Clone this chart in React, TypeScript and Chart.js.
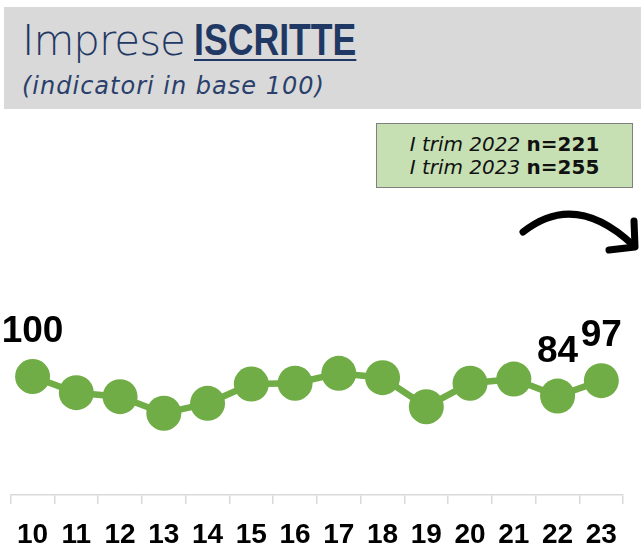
import React, { useEffect, useRef } from "react";
import { Chart, registerables } from "chart.js";

Chart.register(...registerables);

const categories = ["10", "11", "12", "13", "14", "15", "16", "17", "18", "19", "20", "21", "22", "23"];
const indexValues = [100, 91.8, 89.8, 81.4, 86.4, 96.2, 96.6, 101.6, 99.4, 84.7, 96.6, 98.7, 90.1, 97.9];
const pointLabels: (string | null)[] = ["100", null, null, null, null, null, null, null, null, null, null, null, "84", "97"];
const noteLines = [
  { period: "I trim 2022", n: "n=221" },
  { period: "I trim 2023", n: "n=255" },
];

const GREEN = "#70ad47";
const POINT_R = 17.5;
const CANVAS_H = 567;

const labelPlugin = {
  id: "pointLabels",
  afterDatasetsDraw(chart: any) {
    const meta = chart.getDatasetMeta(0);
    const ctx = chart.ctx;
    ctx.save();
    ctx.fillStyle = "#000";
    ctx.textAlign = "center";
    ctx.textBaseline = "alphabetic";
    ctx.font = "bold 37px 'Liberation Sans', Arial, sans-serif";
    meta.data.forEach((pt: any, i: number) => {
      const t = pointLabels[i];
      if (!t) return;
      ctx.fillText(t, pt.x, pt.y - POINT_R - 17);
    });
    ctx.restore();
  },
};

export default function App() {
  const ref = useRef<HTMLCanvasElement | null>(null);

  useEffect(() => {
    document.body.style.margin = "0";
    if (!ref.current) return;
    const chart = new Chart(ref.current, {
      type: "line",
      data: {
        labels: categories,
        datasets: [
          {
            data: indexValues,
            borderColor: GREEN,
            backgroundColor: GREEN,
            borderWidth: 6.5,
            pointRadius: POINT_R,
            pointHoverRadius: POINT_R,
            pointBackgroundColor: GREEN,
            pointBorderWidth: 0,
            tension: 0,
            clip: false as any,
          },
        ],
      },
      options: {
        animation: false,
        responsive: false,
        devicePixelRatio: 1,
        events: [],
        layout: { autoPadding: false, padding: { left: 10.7, right: 17.8, top: 297.5, bottom: 0 } },
        plugins: { legend: { display: false }, tooltip: { enabled: false } },
        scales: {
          x: {
            type: "category",
            offset: true,
            grid: {
              offset: true,
              drawOnChartArea: false,
              drawTicks: true,
              tickLength: 9,
              color: "#d9d9d9",
              lineWidth: 1.5,
            },
            border: { display: true, color: "#d9d9d9", width: 1.5 },
            ticks: {
              color: "#000",
              padding: 14.7,
              maxRotation: 0,
              autoSkip: false,
              font: { family: "'Liberation Sans', Arial, sans-serif", weight: "bold", size: 28 },
            },
          },
          y: { display: false, min: 40, max: 140 },
        },
      },
      plugins: [labelPlugin],
    });
    return () => chart.destroy();
  }, []);

  return (
    <div style={{ position: "relative", width: 641, height: 549, overflow: "hidden", background: "#fff" }}>
      <div style={{ position: "absolute", left: 4, top: 7, width: 637, height: 102, background: "#d9d9d9" }} />
      <div
        style={{
          position: "absolute",
          left: 22,
          top: 16,
          fontSize: 42,
          lineHeight: "50px",
          color: "#1f3864",
          whiteSpace: "nowrap",
          fontFamily: "'DejaVu Sans', sans-serif",
          fontWeight: 200,
          letterSpacing: "-1px",
        }}
      >
        <span>Imprese</span>
      </div>
      <div
        style={{
          position: "absolute",
          left: 194,
          top: 15,
          fontSize: 44,
          lineHeight: "50px",
          color: "#1f3864",
          whiteSpace: "nowrap",
          fontFamily: "'Liberation Sans', Arial, sans-serif",
          fontWeight: 700,
          transform: "scaleX(0.81)",
          transformOrigin: "0 0",
          textDecoration: "underline",
          textDecorationThickness: "2px",
          textUnderlineOffset: "4px",
        }}
      >
        ISCRITTE
      </div>
      <div
        style={{
          position: "absolute",
          left: 22,
          top: 72,
          fontSize: 24,
          lineHeight: "28px",
          color: "#2a3f6b",
          fontStyle: "italic",
          whiteSpace: "nowrap",
          fontFamily: "'DejaVu Sans', sans-serif",
          fontWeight: 200,
          letterSpacing: "1px",
        }}
      >
        (indicatori in base 100)
      </div>
      <canvas
        ref={ref}
        width={641}
        height={CANVAS_H}
        style={{ position: "absolute", left: 0, top: 0, width: 641, height: CANVAS_H }}
      />
      <div
        style={{
          position: "absolute",
          left: 376,
          top: 123,
          width: 257,
          height: 65,
          background: "#c6e0b4",
          border: "1.5px solid #7f7f7f",
          boxSizing: "border-box",
          display: "flex",
          flexDirection: "column",
          alignItems: "center",
          justifyContent: "center",
          fontFamily: "'DejaVu Sans', sans-serif",
          fontSize: 20,
          lineHeight: "22.5px",
          color: "#111",
          whiteSpace: "nowrap",
        }}
      >
        {noteLines.map((l) => (
          <div key={l.period}>
            <span style={{ fontStyle: "italic", fontWeight: 200 }}>{l.period} </span>
            <span style={{ fontWeight: 700 }}>{l.n}</span>
          </div>
        ))}
      </div>
      <svg width={641} height={549} style={{ position: "absolute", left: 0, top: 0, pointerEvents: "none" }}>
        <path d="M523,232 Q575,190.5 633,245" fill="none" stroke="#000" strokeWidth={7} strokeLinecap="round" />
        <path d="M634,221 L635,247 L609,250" fill="none" stroke="#000" strokeWidth={7} strokeLinecap="round" strokeLinejoin="round" />
      </svg>
    </div>
  );
}
